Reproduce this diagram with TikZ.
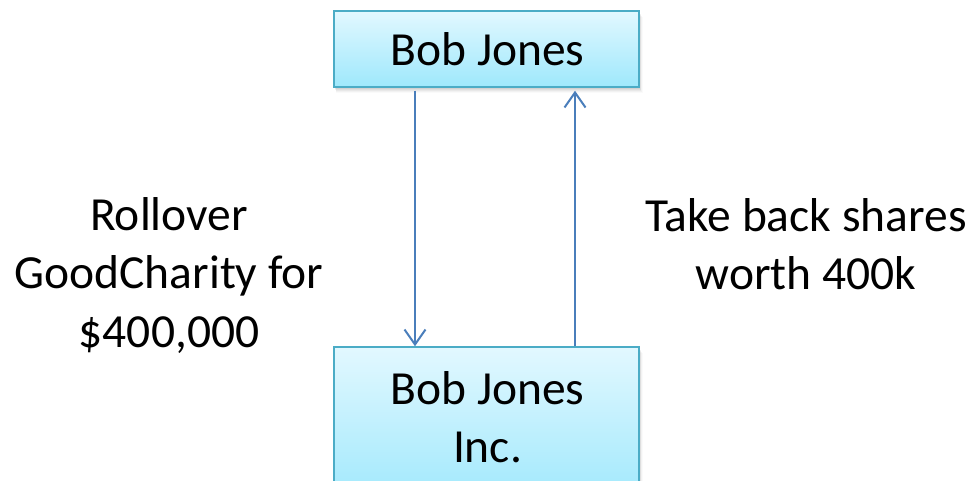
\documentclass[tikz,border=0pt]{standalone}
\usepackage{fontspec}
\setmainfont{Carlito}
\usetikzlibrary{arrows.meta}
\definecolor{boxedge}{RGB}{75,172,198}
\definecolor{boxtop}{RGB}{226,248,255}
\definecolor{boxbottom}{RGB}{158,232,252}
\definecolor{flow}{RGB}{74,126,187}
\tikzset{
  entity/.style={draw=boxedge, line width=1.5pt, top color=boxtop, bottom color=boxbottom,
    minimum width=305pt, inner sep=0pt},
  label/.style={font=\fontsize{47.5}{58}\selectfont, anchor=base, inner sep=0pt},
  flowarrow/.style={draw=flow, line width=2pt,
    -{Straight Barb[length=15pt, width=21pt, line width=2pt]}},
  softshadow/.style={fill=black, draw=none}
}
\begin{document}
\begin{tikzpicture}[x=1pt, y=-1pt]
\useasboundingbox (0,0) rectangle (973,481);
\clip (0,0) rectangle (973,481);
% blurred drop shadows behind the boxes
\foreach \d/\o in {1/0.06, 2/0.05, 3/0.05, 4/0.04, 5/0.03, 6/0.02} {
  \fill[softshadow, opacity=\o] (334+\d*0.4, 11+\d) rectangle (639+\d*0.6, 87+\d);
  \fill[softshadow, opacity=\o] (334+\d*0.4, 347+\d) rectangle (639+\d*0.6, 500);
}
% the two parties
\node[entity, minimum height=76pt] (top) at (486.5,49) {};
\node[entity, minimum height=160pt] (bot) at (486.5,427) {};
\node[label] (topname) at (487.5,66) {Bob Jones};
\node[label] (botname) at (487.5,404) {Bob Jones};
\node[label] (botinc) at (487.5,462) {Inc.};
% flows between them
\draw[flowarrow] ([xshift=-71.5pt, yshift=-3pt]top.south) -- ([xshift=-71.5pt]bot.north);
\draw[flowarrow] ([xshift=88.5pt]bot.north) -- ([xshift=88.5pt, yshift=-3pt]top.south);
% flow descriptions
\node[label] (l1) at (169,230) {Rollover};
\node[label] (l2) at (169,288.5) {GoodCharity for};
\node[label] (l3) at (169,347) {\$400,000};
\node[label] (r1) at (806,231) {Take back shares};
\node[label] (r2) at (806,289.5) {worth 400k};
\end{tikzpicture}
\end{document}
